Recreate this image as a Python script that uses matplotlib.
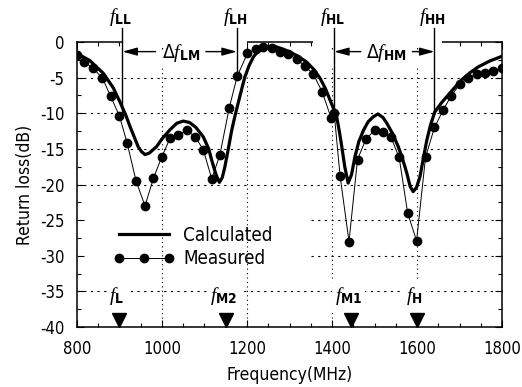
import matplotlib
matplotlib.use('Agg')
import matplotlib.pyplot as plt
from matplotlib.patches import Rectangle

plt.rcParams.update({
    'font.family': 'DejaVu Sans',
    'font.stretch': 'condensed',
    'font.size': 11,
    'axes.unicode_minus': False,
    'mathtext.fontset': 'custom',
    'mathtext.rm': 'DejaVu Sans',
    'mathtext.it': 'Liberation Serif:italic',
    'mathtext.bf': 'DejaVu Sans:bold',
})

# ── data ─────────────────────────────────────────────────────────────────────
calc_f = [800, 830, 862, 885, 901, 915, 925, 944, 952, 960, 970, 987, 1000,
          1019, 1035, 1050, 1065, 1080, 1097, 1110, 1117, 1127, 1135, 1142,
          1148, 1156, 1164, 1172, 1180, 1188, 1195, 1205, 1215, 1226, 1238,
          1254, 1270, 1285, 1301, 1320, 1340, 1358, 1372, 1385, 1395, 1404,
          1411, 1418, 1423, 1430, 1438, 1446, 1454, 1463, 1474, 1485, 1497,
          1508, 1520, 1529, 1542, 1556, 1566, 1576, 1584, 1591, 1599, 1607,
          1615, 1623, 1632, 1642, 1658, 1674, 1690, 1705, 1725, 1744, 1770,
          1800]
calc_rl = [-1.6, -2.6, -4.4, -6.4, -8.4, -10.3, -11.9, -14.7, -15.4, -15.8,
           -15.6, -14.7, -13.6, -12.3, -11.4, -11.1, -11.3, -12.0, -13.3,
           -15.0, -16.6, -18.6, -19.7, -19.0, -17.5, -15.0, -12.4, -10.3,
           -8.4, -6.5, -4.9, -3.3, -2.1, -1.3, -0.9, -0.7, -0.7, -1.0, -1.4,
           -2.0, -2.8, -3.9, -5.1, -6.6, -8.1, -9.4, -10.5, -12.8, -14.7,
           -17.5, -19.8, -18.6, -16.1, -14.0, -12.4, -11.2, -10.5, -10.1,
           -10.6, -11.4, -12.8, -14.7, -16.4, -18.4, -20.3, -21.0, -20.4,
           -18.9, -16.3, -13.8, -11.6, -9.8, -8.5, -7.4, -6.3, -5.3, -4.3,
           -3.5, -2.7, -2.0]

meas_f = [800, 816, 837, 860, 879, 900, 918, 939, 960, 980, 999, 1019, 1038,
          1058, 1078, 1097, 1117, 1136, 1158, 1177, 1201, 1220, 1238, 1258,
          1278, 1297, 1317, 1336, 1356, 1377, 1398, 1405, 1419, 1440, 1460,
          1480, 1500, 1521, 1539, 1558, 1578, 1599, 1620, 1641, 1662, 1680,
          1701, 1721, 1740, 1760, 1779, 1799]
meas_rl = [-1.8, -2.8, -3.6, -5.1, -7.6, -10.4, -14.2, -19.5, -23.0, -19.1,
           -16.2, -13.5, -13.1, -12.4, -13.3, -15.1, -19.2, -15.9, -9.3, -4.8,
           -1.6, -1.0, -0.7, -0.9, -1.4, -1.7, -2.4, -3.4, -4.5, -7.0, -10.7,
           -9.9, -18.8, -28.0, -16.5, -13.6, -12.4, -12.6, -13.4, -16.2,
           -24.0, -27.9, -16.2, -12.0, -9.5, -7.6, -5.9, -5.0, -4.5, -4.3,
           -4.1, -3.7]

# band edges (vertical lines at top) and where they meet the curve
edge_f = [907, 1176, 1405, 1641]
edge_end = [-9.8, -4.4, -9.8, -10.0]
edge_lbl = [r'$f_{\mathbf{LL}}$', r'$f_{\mathbf{LH}}$',
            r'$f_{\mathbf{HL}}$', r'$f_{\mathbf{HH}}$']

# resonance markers at the bottom
res_f = [900, 1150, 1445, 1600]
res_lbl = [r'$f_{\mathbf{L}}$', r'$f_{\mathbf{M2}}$',
           r'$f_{\mathbf{M1}}$', r'$f_{\mathbf{H}}$']

# ── figure ───────────────────────────────────────────────────────────────────
fig = plt.figure(figsize=(5.22, 3.87), dpi=100)
ax = fig.add_axes([0.1475, 0.155, 0.8142, 0.7365])
ax.set_xlim(800, 1800)
ax.set_ylim(-40, 0)

# grid (partly hidden behind labels, as in the original)
for x in [1000, 1200, 1400, 1600]:
    ax.vlines(x, -40, -3.5, colors='black', linestyles=(0, (1, 3)), lw=0.8, zorder=1)
for y in [-5, -10, -15, -20, -35]:
    ax.hlines(y, 800, 1800, colors='black', linestyles=(0, (2, 4)), lw=0.8, zorder=1)
for y in [-25, -30]:
    ax.hlines(y, 1350, 1800, colors='black', linestyles=(0, (2, 4)), lw=0.8, zorder=1)

ln_c, = ax.plot(calc_f, calc_rl, color='black', lw=2.3, zorder=3, label='Calculated')
ln_m, = ax.plot(meas_f, meas_rl, color='black', lw=0.7, marker='o', ms=6,
                zorder=3, label='Measured')

ax.set_xticks(range(800, 1801, 200))
ax.set_xticks(range(800, 1801, 50), minor=True)
ax.set_yticks(range(-40, 1, 5))
ax.set_yticks([v / 2 for v in range(-80, 1, 5)], minor=True)
ax.tick_params(which='both', direction='in', top=True, right=True, width=0.8)
ax.tick_params(which='major', length=5)
ax.tick_params(which='minor', length=3)
ax.tick_params(axis='y', pad=9, labelsize=12)
ax.tick_params(axis='x', pad=9, labelsize=12)
for sp in ax.spines.values():
    sp.set_linewidth(1.1)

# gaps in the top frame where the bandwidth annotations sit
for x0, x1 in [(907, 1200), (1355, 1659)]:
    ax.add_patch(Rectangle((x0, -0.9), x1 - x0, 1.4, facecolor='white',
                           edgecolor='none', clip_on=False, zorder=2.6))

for f, yend, lbl in zip(edge_f, edge_end, edge_lbl):
    ax.plot([f, f], [1.9, yend], color='black', lw=1.0, clip_on=False, zorder=4)
    ax.text(f - 4, 2.0, lbl, ha='center', va='bottom', fontsize=14, zorder=5)

# bandwidth arrows
arw = dict(arrowstyle='-|>,head_length=0.8,head_width=0.22', color='black', lw=1.0,
           shrinkA=0, shrinkB=0)
ax.annotate('', xy=(edge_f[0], -1.35), xytext=(985, -1.35), arrowprops=arw, zorder=5)
ax.annotate('', xy=(edge_f[1], -1.35), xytext=(1103, -1.35), arrowprops=arw, zorder=5)
ax.text(1045, -1.5, r'$\Delta f_{\mathbf{LM}}$', ha='center', va='center',
        fontsize=14, zorder=5)
ax.annotate('', xy=(edge_f[2], -1.35), xytext=(1468, -1.35), arrowprops=arw, zorder=5)
ax.annotate('', xy=(edge_f[3], -1.35), xytext=(1589, -1.35), arrowprops=arw, zorder=5)
ax.text(1528, -1.5, r'$\Delta f_{\mathbf{HM}}$', ha='center', va='center',
        fontsize=14, zorder=5)

# resonance markers
ax.plot(res_f, [-39.0] * len(res_f), ls='none', marker='v', ms=10,
        color='black', clip_on=False, zorder=4)
for f, lbl in zip(res_f, res_lbl):
    ax.text(f - 6, -35.6, lbl, ha='center', va='center', fontsize=14, zorder=5,
            bbox=dict(boxstyle='square,pad=0.15', facecolor='white', edgecolor='none'))

ax.legend(handles=[ln_c, ln_m], loc='upper left', bbox_to_anchor=(0.045, 0.415),
          frameon=False, numpoints=3, handlelength=3.3, handletextpad=0.45,
          labelspacing=0.25, prop=dict(size=13.5))

ax.set_xlabel('Frequency(MHz)', fontsize=12.5, labelpad=6)
ax.set_ylabel('Return loss(dB)', fontsize=12.5, labelpad=4)

fig.savefig('out.png', dpi=100)
